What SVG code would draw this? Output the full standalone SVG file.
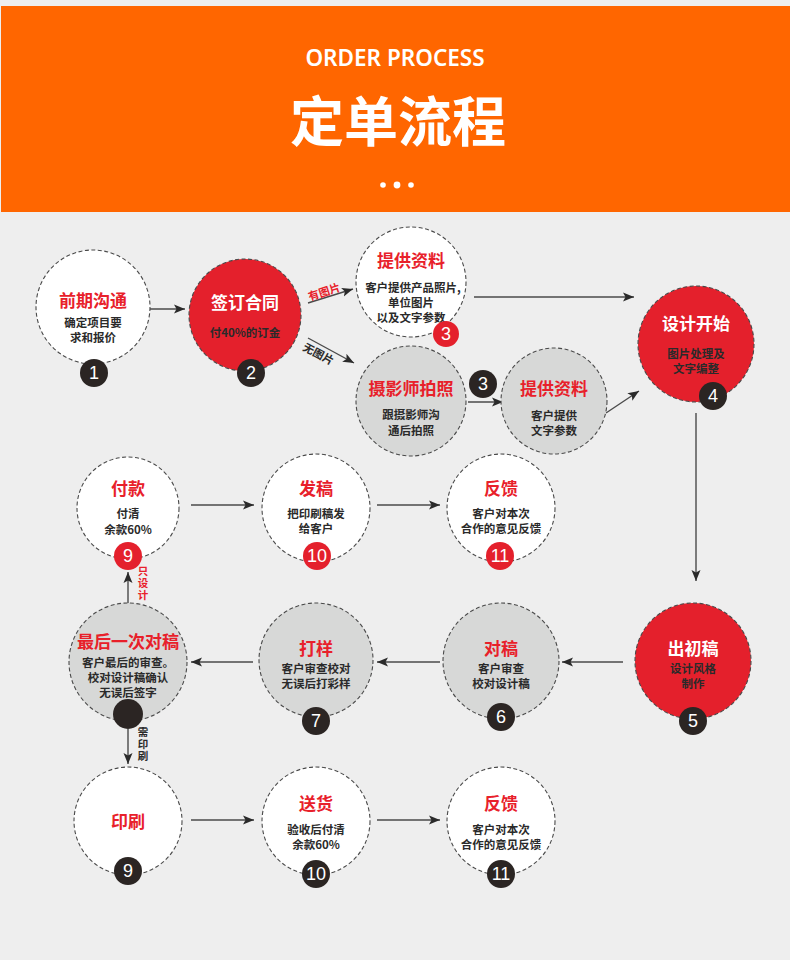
<svg xmlns="http://www.w3.org/2000/svg" width="790" height="960" viewBox="0 0 790 960">
<defs>
<marker id="ah" markerUnits="userSpaceOnUse" markerWidth="12" markerHeight="10" refX="11" refY="5" orient="auto">
<path d="M0,0.5 L11,5 L0,9.5 L2.5,5 Z" fill="#2a2a2a"/>
</marker>
<style>
text{font-family:"Noto Sans CJK SC","Noto Sans",sans-serif;text-anchor:middle;dominant-baseline:central}
.c{stroke:#4a4a4a;stroke-width:1.1;stroke-dasharray:4 2.5}
.w{fill:#ffffff}
.g{fill:#d7d8d7}
.r{fill:#e4202c}
.t{font-size:17px;font-weight:700;fill:#e8202a}
.tw{font-size:17px;font-weight:700;fill:#ffffff}
.s{font-size:11.5px;font-weight:700;fill:#2a2a2a}
.bd{fill:#2b2523}
.br{fill:#e4202c}
.bn{font-family:"Liberation Sans",Arial,sans-serif;font-size:18px;fill:#ffffff}
.ln{stroke:#4a4a4a;stroke-width:1.4;fill:none;marker-end:url(#ah)}
.lbl{font-size:11px;font-weight:700}
.v{font-size:10.5px;font-weight:700;writing-mode:vertical-rl;letter-spacing:1.5px}
</style>
</defs>
<rect x="0" y="0" width="790" height="960" fill="#eeeeee"/>
<g id="header">
<rect x="1" y="6" width="789" height="206" fill="#ff6600"/>
<text x="395" y="57" style="font-family:'Noto Sans','Open Sans',sans-serif;font-size:22.5px;font-weight:600;fill:#ffffff">ORDER PROCESS</text>
<text x="398" y="118" style="font-size:54px;font-weight:700;fill:#ffffff">定单流程</text>
<circle cx="383" cy="185" r="2.8" fill="#ffffff"/>
<circle cx="397" cy="185" r="3.4" fill="#ffffff"/>
<circle cx="411" cy="185" r="2.8" fill="#ffffff"/>
</g>
<g id="connectors">
<line class="ln" x1="149" y1="309" x2="185" y2="309"/>
<line class="ln" x1="308" y1="303" x2="353" y2="289"/>
<line class="ln" x1="308" y1="338" x2="354" y2="363"/>
<line class="ln" x1="474" y1="297" x2="634" y2="297"/>
<line class="ln" x1="468" y1="402" x2="503" y2="402"/>
<line class="ln" x1="606" y1="413" x2="639" y2="391"/>
<line class="ln" x1="696" y1="413" x2="696" y2="581"/>
<line class="ln" x1="623" y1="662" x2="562" y2="662"/>
<line class="ln" x1="440" y1="662" x2="377" y2="662"/>
<line class="ln" x1="253" y1="662" x2="191" y2="662"/>
<line class="ln" x1="128" y1="603" x2="128" y2="572"/>
<line class="ln" x1="128" y1="729" x2="128" y2="764"/>
<line class="ln" x1="191" y1="505" x2="254" y2="505"/>
<line class="ln" x1="377" y1="505" x2="440" y2="505"/>
<line class="ln" x1="191" y1="820" x2="254" y2="820"/>
<line class="ln" x1="377" y1="820" x2="440" y2="820"/>
<text class="lbl" x="324" y="291" transform="rotate(-18 324 291)" fill="#e8202a">有图片</text>
<text class="lbl" x="319" y="353" transform="rotate(28 319 353)" fill="#2a2a2a">无图片</text>
<text class="v" x="143" y="584" fill="#e8202a">只设计</text>
<text class="v" x="143" y="745" fill="#2a2a2a">需印刷</text>
</g>
<g id="n1">
<circle class="c w" cx="93" cy="307" r="57"/>
<text class="t" x="93" y="299">前期沟通</text>
<text class="s" x="93" y="322">确定项目要</text>
<text class="s" x="93" y="337">求和报价</text>
<circle class="bd" cx="94" cy="373" r="14"/>
<text class="bn" x="94" y="373">1</text>
</g>
<g id="n2">
<circle class="c r" cx="245" cy="315" r="56"/>
<text class="tw" x="245" y="301">签订合同</text>
<text class="s" x="245" y="332">付40%的订金</text>
<circle class="bd" cx="251" cy="373" r="14"/>
<text class="bn" x="251" y="373">2</text>
</g>
<g id="n3">
<circle class="c w" cx="411" cy="282" r="55"/>
<text class="t" x="411" y="259">提供资料</text>
<text class="s" x="413" y="287">客户提供产品照片,</text>
<text class="s" x="411" y="302">单位图片</text>
<text class="s" x="411" y="317">以及文字参数</text>
<circle class="br" cx="446" cy="334" r="13"/>
<text class="bn" x="446" y="334">3</text>
</g>
<g id="n4">
<circle class="c g" cx="411" cy="401" r="55"/>
<text class="t" x="411" y="387">摄影师拍照</text>
<text class="s" x="411" y="414">跟摄影师沟</text>
<text class="s" x="411" y="430">通后拍照</text>
<circle class="bd" cx="483" cy="384" r="14"/>
<text class="bn" x="483" y="384">3</text>
</g>
<g id="n5">
<circle class="c g" cx="554" cy="401" r="53"/>
<text class="t" x="554" y="387">提供资料</text>
<text class="s" x="554" y="415">客户提供</text>
<text class="s" x="554" y="430">文字参数</text>
</g>
<g id="n6">
<circle class="c r" cx="696" cy="344" r="58"/>
<text class="tw" x="696" y="322">设计开始</text>
<text class="s" x="696" y="353">图片处理及</text>
<text class="s" x="696" y="368">文字编整</text>
<circle class="bd" cx="713" cy="396" r="14"/>
<text class="bn" x="713" y="396">4</text>
</g>
<g id="n7">
<circle class="c r" cx="693" cy="661" r="58"/>
<text class="tw" x="693" y="647">出初稿</text>
<text class="s" x="693" y="668">设计风格</text>
<text class="s" x="693" y="683">制作</text>
<circle class="bd" cx="693" cy="721" r="14"/>
<text class="bn" x="693" y="721">5</text>
</g>
<g id="n8">
<circle class="c g" cx="501" cy="661" r="58"/>
<text class="t" x="501" y="647">对稿</text>
<text class="s" x="501" y="668">客户审查</text>
<text class="s" x="501" y="683">校对设计稿</text>
<circle class="bd" cx="501" cy="717" r="14"/>
<text class="bn" x="501" y="717">6</text>
</g>
<g id="n9">
<circle class="c g" cx="316" cy="660" r="57"/>
<text class="t" x="316" y="647">打样</text>
<text class="s" x="316" y="668">客户审查校对</text>
<text class="s" x="316" y="683">无误后打彩样</text>
<circle class="bd" cx="316" cy="721" r="14"/>
<text class="bn" x="316" y="721">7</text>
</g>
<g id="n10">
<circle class="c g" cx="128" cy="662" r="59"/>
<text class="t" x="128" y="640">最后一次对稿</text>
<text class="s" x="128" y="662">客户最后的审查。</text>
<text class="s" x="128" y="677">校对设计稿确认</text>
<text class="s" x="128" y="692">无误后签字</text>
<circle class="bd" cx="128" cy="714" r="15"/>
</g>
<g id="n11">
<circle class="c w" cx="128" cy="508" r="51"/>
<text class="t" x="128" y="487">付款</text>
<text class="s" x="128" y="513">付清</text>
<text class="s" x="128" y="529">余款60%</text>
<circle class="br" cx="128" cy="556" r="14"/>
<text class="bn" x="128" y="556">9</text>
</g>
<g id="n12">
<circle class="c w" cx="316" cy="508" r="54"/>
<text class="t" x="316" y="487">发稿</text>
<text class="s" x="316" y="513">把印刷稿发</text>
<text class="s" x="316" y="528">给客户</text>
<circle class="br" cx="317" cy="556" r="14"/>
<text class="bn" x="317" y="556">10</text>
</g>
<g id="n13">
<circle class="c w" cx="501" cy="508" r="54"/>
<text class="t" x="501" y="487">反馈</text>
<text class="s" x="501" y="513">客户对本次</text>
<text class="s" x="501" y="528">合作的意见反馈</text>
<circle class="br" cx="500" cy="556" r="14"/>
<text class="bn" x="500" y="556">11</text>
</g>
<g id="n14">
<circle class="c w" cx="128" cy="821" r="54"/>
<text class="t" x="128" y="820">印刷</text>
<circle class="bd" cx="128" cy="871" r="14"/>
<text class="bn" x="128" y="871">9</text>
</g>
<g id="n15">
<circle class="c w" cx="316" cy="821" r="54"/>
<text class="t" x="316" y="802">送货</text>
<text class="s" x="316" y="829">验收后付清</text>
<text class="s" x="316" y="844">余款60%</text>
<circle class="bd" cx="316" cy="874" r="14"/>
<text class="bn" x="316" y="874">10</text>
</g>
<g id="n16">
<circle class="c w" cx="501" cy="821" r="54"/>
<text class="t" x="501" y="802">反馈</text>
<text class="s" x="501" y="829">客户对本次</text>
<text class="s" x="501" y="844">合作的意见反馈</text>
<circle class="bd" cx="501" cy="874" r="14"/>
<text class="bn" x="501" y="874">11</text>
</g>
</svg>
